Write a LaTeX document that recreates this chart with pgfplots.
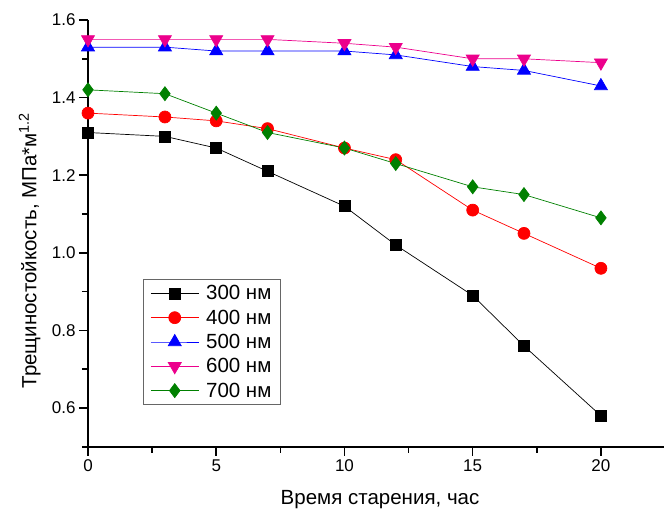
\documentclass[border=0pt]{standalone}
\usepackage{pgfplots}
\pgfplotsset{compat=1.18}
\usepackage{fontspec}
\setmainfont{Liberation Sans}
\definecolor{dgreen}{RGB}{0,128,0}
\begin{document}
\begin{tikzpicture}
\begin{axis}[
  scale only axis,
  width=576pt, height=426.8pt,
  xmin=0, xmax=22.46, ymin=0.5, ymax=1.6,
  axis x line=bottom, axis y line=left,
  axis line style={-, line width=1.5pt},
  xtick={0,5,10,15,20}, minor xtick={2.5,7.5,12.5,17.5},
  ytick={0.6,0.8,1.0,1.2,1.4,1.6}, minor ytick={0.5,0.7,0.9,1.1,1.3,1.5},
  yticklabel style={/pgf/number format/.cd, fixed, fixed zerofill, precision=1},
  /pgf/number format/assume math mode=true,
  tick align=outside,
  major tick length=9pt, minor tick length=6pt,
  tick style={line width=1.5pt, black},
  ticklabel style={font=\fontsize{17}{20}\selectfont},
  xlabel={Время старения, час},
  ylabel={Трещиностойкость, МПа*м\textsuperscript{1.2}},
  label style={font=\fontsize{20.5}{24}\selectfont},
  xlabel style={at={(axis description cs:0.507,-0.136)}, anchor=base},
  ylabel style={at={(axis description cs:-0.101,0.46)}, anchor=center},
  clip=false,
  legend style={at={(0.0955,0.393)}, anchor=north west, font=\fontsize{20.5}{24}\selectfont, draw=black!60, line width=0.8pt, row sep=4.5pt, inner xsep=7pt, inner ysep=4pt, /tikz/every odd column/.append style={column sep=5pt}},
  legend cell align=left,
  legend image code/.code={\draw[mark repeat=2,mark phase=2,#1] plot coordinates {(0pt,0pt)(24pt,0pt)(48pt,0pt)};},
  every axis plot/.append style={line width=0.7pt},
]
\addplot[black, mark=square*, mark size=5.5pt] coordinates {(0,1.31)(3,1.30)(5,1.27)(7,1.21)(10,1.12)(12,1.02)(15,0.89)(17,0.76)(20,0.58)};
\addlegendentry{300 нм}
\addplot[red, mark=*, mark size=6pt] coordinates {(0,1.36)(3,1.35)(5,1.34)(7,1.32)(10,1.27)(12,1.24)(15,1.11)(17,1.05)(20,0.96)};
\addlegendentry{400 нм}
\addplot[blue, mark=triangle*, mark size=7.5pt] coordinates {(0,1.53)(3,1.53)(5,1.52)(7,1.52)(10,1.52)(12,1.51)(15,1.48)(17,1.47)(20,1.43)};
\addlegendentry{500 нм}
\addplot[magenta, mark=triangle*, mark size=7.5pt, mark options={rotate=180}] coordinates {(0,1.55)(3,1.55)(5,1.55)(7,1.55)(10,1.54)(12,1.53)(15,1.50)(17,1.50)(20,1.49)};
\addlegendentry{600 нм}
\addplot[dgreen, mark=diamond*, mark size=7pt] coordinates {(0,1.42)(3,1.41)(5,1.36)(7,1.31)(10,1.27)(12,1.23)(15,1.17)(17,1.15)(20,1.09)};
\addlegendentry{700 нм}
\end{axis}
\pgfresetboundingbox
\useasboundingbox ([shift={(-88pt,-63.2pt)}]current axis.south west) rectangle ([shift={(0pt,20pt)}]current axis.north east);
\end{tikzpicture}
\end{document}
